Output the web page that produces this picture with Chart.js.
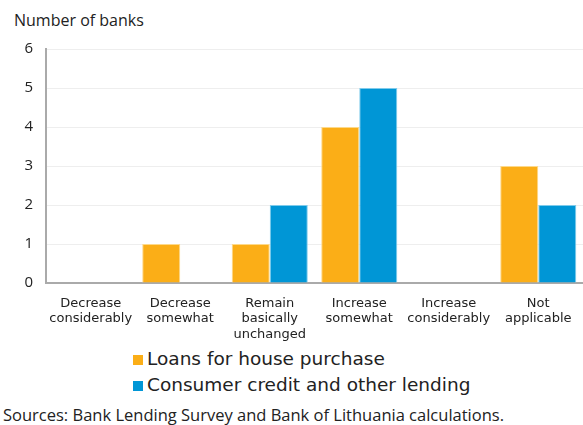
<!doctype html>
<html lang="en">

<head>
    <meta charset="utf-8">
    <title>Number of banks</title>
    <script src="https://cdn.jsdelivr.net/npm/chart.js"></script>
    <style>
        body {
            margin: 0;
            background: #ffffff;
            width: 583px;
            height: 425px;
            position: relative;
            overflow: hidden;
            color: #222;
        }

        #wrap {
            position: absolute;
            left: 0;
            top: 0;
            width: 583px;
            height: 345px;
        }

        .ytitle {
            position: absolute;
            left: 14px;
            top: 9px;
            font: 16px "Open Sans", sans-serif;
        }

        .legend {
            position: absolute;
            left: 133px;
            font: 18.5px "DejaVu Sans", sans-serif;
            color: #222;
        }

        .legend span {
            display: inline-block;
            width: 10px;
            height: 10px;
            margin-right: 4px;
        }

        .source {
            position: absolute;
            left: 3px;
            top: 403px;
            font: 16.5px "Open Sans", sans-serif;
        }
    </style>
</head>

<body>
    <div class="ytitle">Number of banks</div>
    <div id="wrap"><canvas id="chart"></canvas></div>
    <div class="legend" style="top: 348px;"><span style="background:#fbae17"></span>Loans for house purchase</div>
    <div class="legend" style="top: 374px;"><span style="background:#0096d6"></span>Consumer credit and other lending</div>
    <div class="source">Sources: Bank Lending Survey and Bank of Lithuania calculations.</div>

    <script>
        const categories = [
            ['Decrease', 'considerably'],
            ['Decrease', 'somewhat'],
            ['Remain', 'basically', 'unchanged'],
            ['Increase', 'somewhat'],
            ['Increase', 'considerably'],
            ['Not', 'applicable']
        ];
        const housePurchase = [0, 1, 1, 4, 0, 3];
        const consumerCredit = [0, 0, 2, 5, 0, 2];
        const yTicks = [0, 1, 2, 3, 4, 5, 6];

        const ctx = document.getElementById('chart').getContext('2d');
        new Chart(ctx, {
            type: 'bar',
            data: {
                labels: categories,
                datasets: [{
                    label: 'Loans for house purchase',
                    data: housePurchase,
                    backgroundColor: '#fbae17',
                    borderColor: '#fdd98a',
                    borderWidth: 1
                }, {
                    label: 'Consumer credit and other lending',
                    data: consumerCredit,
                    backgroundColor: '#0096d6',
                    borderColor: '#7fcbeb',
                    borderWidth: 1
                }]
            },
            options: {
                responsive: true,
                maintainAspectRatio: false,
                animation: false,
                layout: { padding: { top: 49, right: 0, left: 0, bottom: 0 } },
                plugins: {
                    legend: { display: false },
                    tooltip: { enabled: false }
                },
                datasets: {
                    bar: { categoryPercentage: 0.85, barPercentage: 1 }
                },
                scales: {
                    x: {
                        grid: { display: false },
                        border: { color: '#aaaaaa', width: 2 },
                        ticks: {
                            color: '#222',
                            font: { family: 'DejaVu Sans', size: 13, lineHeight: 1.18 },
                            maxRotation: 0,
                            autoSkip: false,
                            padding: 5
                        },
                        afterFit: function (scale) { scale.height = 62; }
                    },
                    y: {
                        min: 0,
                        max: 6,
                        afterBuildTicks: function (scale) {
                            scale.ticks = yTicks.map(v => ({ value: v }));
                        },
                        grid: { color: '#eeeeee', drawTicks: false },
                        border: { color: '#aaaaaa', width: 2 },
                        ticks: {
                            color: '#222',
                            font: { family: 'Open Sans', size: 15 },
                            padding: 13
                        },
                        afterFit: function (scale) { scale.width = 46; }
                    }
                }
            }
        });
    </script>
</body>

</html>
